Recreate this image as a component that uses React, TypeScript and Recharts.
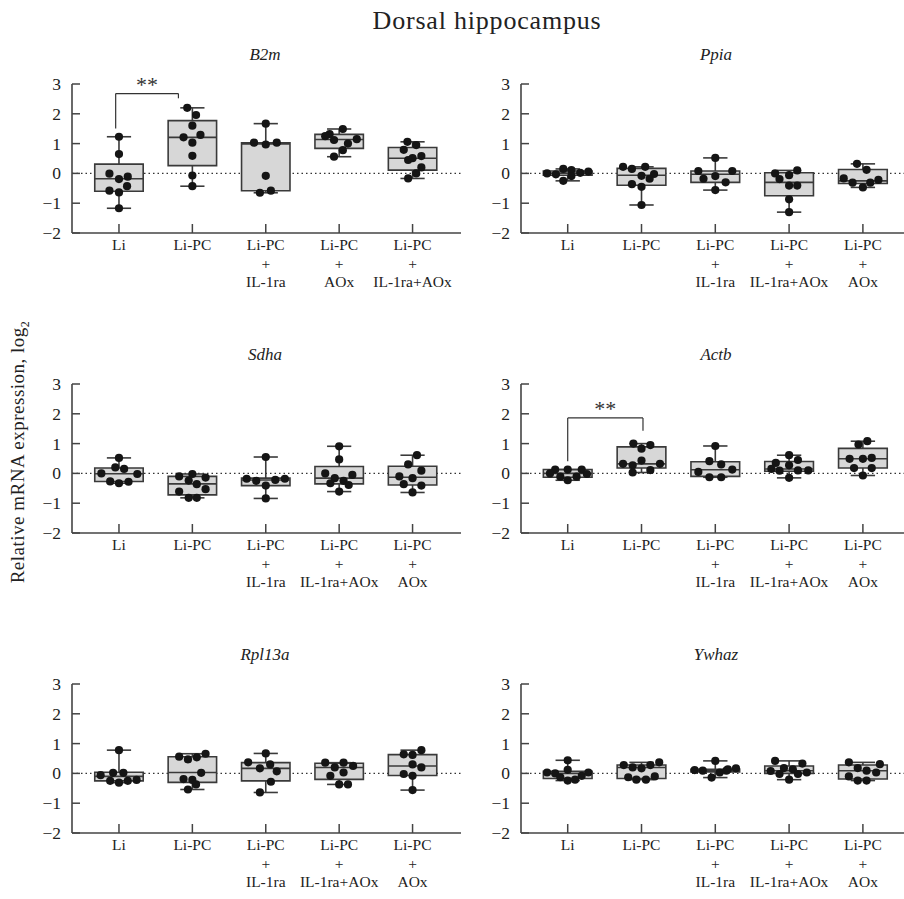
import React from "react";
import {
  ComposedChart,
  XAxis,
  YAxis,
  Scatter,
  ReferenceArea,
  ReferenceLine,
  CartesianGrid,
} from "recharts";

const FONT = '"Liberation Serif", "Times New Roman", serif';
const INK = "#222";
const AXIS = "#444";

// ---------- category labels ----------
const labelsB2m = ["Li", "Li-PC", "Li-PC\n+\nIL-1ra", "Li-PC\n+\nAOx", "Li-PC\n+\nIL-1ra+AOx"];
const labelsStd = ["Li", "Li-PC", "Li-PC\n+\nIL-1ra", "Li-PC\n+\nIL-1ra+AOx", "Li-PC\n+\nAOx"];
const yTicks = [-2, -1, 0, 1, 2, 3];

// ---------- box stats: [min, q1, median, q3, max] ----------
const boxesB2m = [
  [-1.17, -0.6, -0.18, 0.31, 1.23],
  [-0.43, 0.26, 1.21, 1.77, 2.2],
  [-0.65, -0.58, 0.99, 1.03, 1.67],
  [0.56, 0.84, 1.14, 1.31, 1.49],
  [-0.17, 0.11, 0.51, 0.87, 1.06],
];
const boxesPpia = [
  [-0.25, -0.06, 0.01, 0.08, 0.15],
  [-1.06, -0.4, -0.06, 0.17, 0.22],
  [-0.56, -0.3, -0.03, 0.08, 0.52],
  [-1.3, -0.75, -0.3, 0.02, 0.1],
  [-0.47, -0.34, -0.25, 0.13, 0.32],
];
const boxesSdha = [
  [-0.33, -0.27, -0.01, 0.18, 0.52],
  [-0.82, -0.72, -0.35, -0.1, -0.02],
  [-0.84, -0.41, -0.22, -0.16, 0.55],
  [-0.61, -0.35, -0.16, 0.23, 0.91],
  [-0.64, -0.39, -0.13, 0.24, 0.61],
];
const boxesActb = [
  [-0.23, -0.13, 0.0, 0.13, 0.13],
  [0.03, 0.18, 0.32, 0.89, 1.0],
  [-0.13, -0.1, 0.12, 0.39, 0.92],
  [-0.15, 0.07, 0.15, 0.4, 0.61],
  [-0.07, 0.18, 0.49, 0.84, 1.08],
];
const boxesRpl13a = [
  [-0.31, -0.25, -0.1, 0.04, 0.78],
  [-0.54, -0.3, 0.03, 0.56, 0.66],
  [-0.64, -0.25, 0.17, 0.36, 0.67],
  [-0.37, -0.2, 0.2, 0.34, 0.36],
  [-0.56, -0.07, 0.25, 0.63, 0.78],
];
const boxesYwhaz = [
  [-0.24, -0.17, 0.0, 0.07, 0.44],
  [-0.21, -0.17, 0.2, 0.28, 0.37],
  [-0.14, 0.05, 0.09, 0.14, 0.42],
  [-0.21, 0.0, 0.09, 0.25, 0.42],
  [-0.24, -0.19, 0.09, 0.28, 0.37],
];

// ---------- individual points: [jitter (in category widths), value] ----------
const pointsB2m = [
  [[0, 1.23], [0, 0.65], [-0.13, -0.01], [0.12, -0.11], [0, -0.19], [0.11, -0.43], [-0.13, -0.58], [0, -0.64], [0, -1.17]],
  [[-0.07, 2.2], [0.05, 1.96], [0, 1.6], [0.11, 1.29], [-0.12, 1.21], [0, 1.03], [0, 0.59], [0, -0.07], [0, -0.43]],
  [[0, 1.67], [-0.16, 1.03], [0, 0.97], [0.15, 1.03], [0, -0.08], [-0.08, -0.65], [0.07, -0.58]],
  [[0.05, 1.49], [-0.13, 1.32], [-0.19, 1.25], [-0.07, 1.12], [0.24, 1.15], [0.12, 1.0], [0.05, 0.78], [-0.07, 0.56]],
  [[-0.07, 1.06], [0.05, 0.95], [-0.12, 0.79], [0, 0.51], [0.12, 0.58], [-0.06, 0.45], [0.12, 0.2], [0.05, 0.0], [-0.06, -0.17]],
];
const pointsPpia = [
  [[-0.28, 0.0], [-0.16, -0.03], [-0.06, 0.15], [0.05, 0.11], [0.05, -0.09], [0.17, 0.02], [0.28, 0.06], [-0.06, -0.25]],
  [[-0.25, 0.22], [-0.13, 0.15], [0.05, 0.22], [0, -0.08], [0.17, -0.02], [0.11, -0.18], [-0.13, -0.36], [0, -0.45], [0, -1.06]],
  [[0, 0.52], [-0.23, 0.08], [0.23, 0.08], [0, -0.09], [-0.16, -0.18], [0.14, -0.3], [0, -0.56]],
  [[-0.19, 0.0], [0.11, 0.1], [0, -0.06], [-0.13, -0.19], [0, -0.41], [0.11, -0.41], [0, -0.87], [0, -1.3]],
  [[-0.08, 0.32], [0.05, 0.12], [-0.26, -0.17], [-0.14, -0.31], [0, -0.47], [0.1, -0.31], [0.21, -0.22]],
];
const pointsSdha = [
  [[0, 0.52], [-0.05, 0.2], [0.07, 0.15], [-0.24, 0.0], [0.25, -0.02], [-0.12, -0.27], [0, -0.33], [0.13, -0.28]],
  [[0, -0.02], [-0.18, -0.1], [0.18, -0.14], [-0.05, -0.24], [0.06, -0.36], [0.18, -0.53], [-0.18, -0.61], [-0.05, -0.82], [0.06, -0.82]],
  [[0, 0.55], [-0.26, -0.18], [-0.13, -0.25], [0.13, -0.22], [0.26, -0.18], [0, -0.41], [0, -0.84]],
  [[0, 0.91], [0, 0.47], [-0.19, 0.0], [0.18, -0.05], [-0.06, -0.16], [0.06, -0.25], [-0.12, -0.33], [0.13, -0.39], [0, -0.61]],
  [[0.06, 0.61], [-0.06, 0.3], [0.12, 0.09], [-0.18, -0.1], [0, -0.16], [-0.12, -0.36], [0.12, -0.41], [0, -0.64]],
];
const pointsActb = [
  [[-0.17, 0.13], [0, 0.13], [0.19, 0.13], [-0.24, 0.0], [0.26, -0.02], [-0.1, -0.11], [0.12, -0.11], [0, -0.23]],
  [[-0.11, 1.0], [0.12, 0.95], [0, 0.83], [0, 0.43], [-0.25, 0.32], [-0.12, 0.27], [0.25, 0.32], [0.12, 0.11], [-0.12, 0.03]],
  [[0, 0.92], [-0.08, 0.41], [0.08, 0.3], [-0.23, 0.05], [0.23, 0.13], [-0.08, -0.13], [0.08, -0.13]],
  [[0, 0.61], [0.12, 0.45], [-0.18, 0.35], [0, 0.27], [-0.24, 0.15], [-0.13, 0.09], [0.12, 0.1], [0.26, 0.1], [0, -0.15]],
  [[0.06, 1.08], [-0.06, 0.97], [-0.18, 0.49], [0, 0.49], [0.12, 0.52], [-0.12, 0.18], [0.12, 0.18], [0, -0.07]],
];
const pointsRpl13a = [
  [[0, 0.78], [-0.25, -0.06], [-0.08, 0.02], [0.06, 0.02], [-0.12, -0.25], [0, -0.31], [0.12, -0.25], [0.24, -0.22]],
  [[-0.18, 0.56], [-0.06, 0.47], [0.06, 0.54], [0.18, 0.66], [0.12, 0.02], [-0.12, -0.19], [0, -0.22], [0.05, -0.37], [-0.06, -0.54]],
  [[0, 0.67], [-0.24, 0.37], [0.06, 0.3], [-0.08, 0.17], [0.15, 0.07], [0.07, -0.28], [-0.08, -0.64]],
  [[-0.19, 0.36], [-0.06, 0.2], [0.06, 0.36], [0.19, 0.25], [-0.12, -0.08], [0.06, 0.03], [0, -0.37], [0.12, -0.37]],
  [[-0.12, 0.64], [0.12, 0.78], [0, 0.62], [0, 0.3], [0.12, 0.2], [-0.12, -0.02], [0, -0.08], [0, -0.56]],
];
const pointsYwhaz = [
  [[0, 0.44], [-0.28, 0.03], [-0.17, 0.0], [0, 0.12], [-0.1, -0.13], [0, -0.24], [0.1, -0.21], [0.19, -0.08], [0.28, 0.03]],
  [[-0.24, 0.28], [-0.12, 0.2], [0, 0.17], [0.12, 0.28], [0.24, 0.37], [-0.18, -0.13], [-0.07, -0.21], [0.06, -0.21], [0.18, -0.1]],
  [[0, 0.42], [-0.28, 0.11], [-0.17, 0.09], [0.17, 0.14], [0.28, 0.17], [0.06, 0.03], [-0.05, -0.14], [0.15, 0.09]],
  [[-0.19, 0.42], [0.18, 0.33], [-0.07, 0.18], [0.05, 0.14], [-0.25, 0.08], [-0.13, -0.02], [0.12, -0.02], [0.24, 0.03], [0, -0.21]],
  [[-0.19, 0.37], [-0.07, 0.18], [0.23, 0.31], [0.05, 0.09], [0.18, 0.03], [-0.19, -0.1], [-0.07, -0.24], [0.05, -0.24]],
];

// ---------- significance brackets: [xLeft, yLeftBottom, xRight, yRightBottom, yTop] ----------
const bracketB2m = [-0.045, 1.51, 0.81, 2.52, 2.68];
const bracketActb = [0, 0.41, 1.02, 1.43, 1.86];

type Panel = {
  title: string;
  labels: string[];
  boxes: number[][];
  points: number[][][];
  bracket?: number[];
};

const panels: Panel[] = [
  { title: "B2m", labels: labelsB2m, boxes: boxesB2m, points: pointsB2m, bracket: bracketB2m },
  { title: "Ppia", labels: labelsStd, boxes: boxesPpia, points: pointsPpia },
  { title: "Sdha", labels: labelsStd, boxes: boxesSdha, points: pointsSdha },
  { title: "Actb", labels: labelsStd, boxes: boxesActb, points: pointsActb, bracket: bracketActb },
  { title: "Rpl13a", labels: labelsStd, boxes: boxesRpl13a, points: pointsRpl13a },
  { title: "Ywhaz", labels: labelsStd, boxes: boxesYwhaz, points: pointsYwhaz },
];

const BOX_HALF = 0.33;
const CAP_HALF = 0.165;
const BOX_FILL = "#d7d7d7";
const BOX_STROKE = "#3a3a3a";

function XTick(props: any) {
  const { x, y, payload, labels } = props;
  const lines = String(labels[payload.value] ?? "").split("\n");
  return (
    <g>
      <line x1={x} x2={x} y1={y} y2={y - 9} stroke={AXIS} strokeWidth={1.5} />
      <text x={x} y={y} textAnchor="middle" fontFamily={FONT} fontSize={15.5} fill={INK}>
        {lines.map((l, i) => (
          <tspan key={i} x={x} dy={i === 0 ? 17 : 18.5}>
            {l}
          </tspan>
        ))}
      </text>
    </g>
  );
}

function YTick(props: any) {
  const { x, y, payload } = props;
  const v = Number(payload.value);
  const s = v < 0 ? "\u2212" + Math.abs(v) : String(v);
  return (
    <g>
      <line x1={x} x2={x + 8} y1={y} y2={y} stroke={AXIS} strokeWidth={1.5} />
      <text x={x - 11} y={y} dy={6} textAnchor="end" fontFamily={FONT} fontSize={17.5} fill={INK}>
        {s}
      </text>
    </g>
  );
}

const Dot = (p: any) => <circle cx={p.cx} cy={p.cy} r={4.1} fill="#151515" />;

function BoxPanel({ panel, width, marginRight, domain }: { panel: Panel; width: number; marginRight: number; domain: [number, number] }) {
  const scatterData = panel.points.flatMap((grp, i) => grp.map(([j, v]) => ({ x: i + j, y: v })));
  const elems: React.ReactNode[] = [];
  panel.boxes.forEach(([mn, q1, md, q3, mx], i) => {
    const ws = { stroke: BOX_STROKE, strokeWidth: 1.6, ifOverflow: "visible" as const };
    elems.push(<ReferenceLine key={`wu${i}`} segment={[{ x: i, y: q3 }, { x: i, y: mx }]} {...ws} />);
    elems.push(<ReferenceLine key={`wl${i}`} segment={[{ x: i, y: mn }, { x: i, y: q1 }]} {...ws} />);
    elems.push(<ReferenceLine key={`cu${i}`} segment={[{ x: i - CAP_HALF, y: mx }, { x: i + CAP_HALF, y: mx }]} {...ws} />);
    elems.push(<ReferenceLine key={`cl${i}`} segment={[{ x: i - CAP_HALF, y: mn }, { x: i + CAP_HALF, y: mn }]} {...ws} />);
  });
  panel.boxes.forEach(([, q1, , q3], i) => {
    elems.push(
      <ReferenceArea
        key={`b${i}`}
        x1={i - BOX_HALF}
        x2={i + BOX_HALF}
        y1={q1}
        y2={q3}
        fill={BOX_FILL}
        fillOpacity={1}
        stroke={BOX_STROKE}
        strokeWidth={1.6}
        ifOverflow="visible"
      />
    );
  });
  panel.boxes.forEach(([, , md], i) => {
    elems.push(
      <ReferenceLine
        key={`m${i}`}
        segment={[{ x: i - BOX_HALF, y: md }, { x: i + BOX_HALF, y: md }]}
        stroke={BOX_STROKE}
        strokeWidth={1.6}
        ifOverflow="visible"
      />
    );
  });
  if (panel.bracket) {
    const [xl, yl, xr, yr, yt] = panel.bracket;
    const bs = { stroke: "#333", strokeWidth: 1.2, ifOverflow: "visible" as const };
    elems.push(<ReferenceLine key="brl" segment={[{ x: xl, y: yl }, { x: xl, y: yt }]} {...bs} />);
    elems.push(<ReferenceLine key="brr" segment={[{ x: xr, y: yr }, { x: xr, y: yt }]} {...bs} />);
    elems.push(
      <ReferenceLine
        key="brt"
        segment={[{ x: xl, y: yt }, { x: xr, y: yt }]}
        {...bs}
        label={{ value: "**", position: "top", offset: 2, fontFamily: FONT, fontSize: 22, fill: "#333" }}
      />
    );
  }
  return (
    <ComposedChart width={width} height={228} margin={{ top: 14, right: marginRight, bottom: 0, left: 0 }}>
      <CartesianGrid horizontal vertical={false} horizontalValues={[0]} stroke="#333" strokeWidth={1.2} strokeDasharray="1.5 3" />
      <XAxis
        type="number"
        dataKey="x"
        domain={domain}
        allowDataOverflow
        ticks={[0, 1, 2, 3, 4]}
        interval={0}
        height={65}
        tickSize={0}
        tickMargin={0}
        tickLine={false}
        axisLine={{ stroke: AXIS, strokeWidth: 1.6 }}
        tick={(p: any) => <XTick {...p} labels={panel.labels} />}
      />
      <YAxis
        type="number"
        dataKey="y"
        domain={[-2, 3]}
        allowDataOverflow
        ticks={yTicks}
        interval={0}
        width={72}
        tickSize={0}
        tickMargin={0}
        tickLine={false}
        axisLine={{ stroke: AXIS, strokeWidth: 1.6 }}
        tick={(p: any) => <YTick {...p} />}
      />
      {elems}
      <Scatter data={scatterData} dataKey="y" shape={Dot} isAnimationActive={false} />
    </ComposedChart>
  );
}

export default function App() {
  const rowTop = [70, 370, 670];
  const titleY = [56, 356, 656];
  return (
    <div style={{ position: "absolute", left: 0, top: 0, width: 904, height: 899, background: "#fff", fontFamily: FONT, color: INK }}>
      <div style={{ position: "absolute", left: 287, width: 400, top: 6, textAlign: "center", fontSize: 26, letterSpacing: 0.8 }}>
        Dorsal hippocampus
      </div>
      {panels.map((p, idx) => {
        const col = idx % 2;
        const row = Math.floor(idx / 2);
        const left = col === 0 ? 0 : 449;
        const width = col === 0 ? 470 : 455;
        const marginRight = col === 0 ? 9 : 0;
        const domain: [number, number] = col === 0 ? [-0.64, 4.66] : [-0.633, 4.557];
        const titleX = col === 0 ? 265 : 716;
        return (
          <React.Fragment key={p.title}>
            <div
              style={{
                position: "absolute",
                left: titleX - 60,
                width: 120,
                top: titleY[row] - 11,
                textAlign: "center",
                fontStyle: "italic",
                fontSize: 17,
              }}
            >
              {p.title}
            </div>
            <div style={{ position: "absolute", left, top: rowTop[row] }}>
              <BoxPanel panel={p} width={width} marginRight={marginRight} domain={domain} />
            </div>
          </React.Fragment>
        );
      })}
      <svg style={{ position: "absolute", left: 0, top: 0 }} width={40} height={899}>
        <text
          transform="translate(24,452) rotate(-90)"
          textAnchor="middle"
          fontFamily={FONT}
          fontSize={19}
          letterSpacing={0.5}
          fill={INK}
        >
          Relative mRNA expression, log
          <tspan fontSize={12} dy={5}>2</tspan>
        </text>
      </svg>
    </div>
  );
}
